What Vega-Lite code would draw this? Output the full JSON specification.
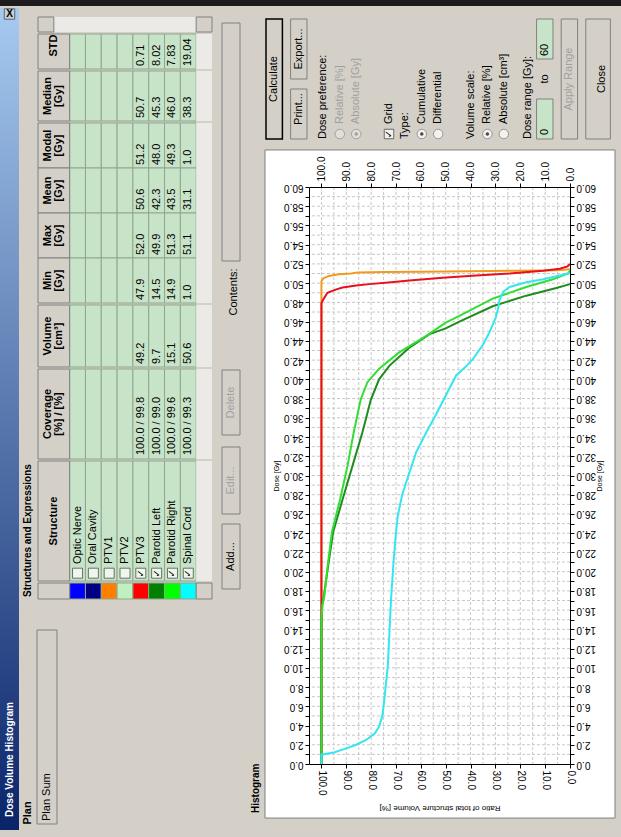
{
"$schema":"https://vega.github.io/schema/vega-lite/v6.json",
"background":"#d4d0c8",
"padding":0,
"spacing":0,
"config":{"view":{"stroke":null},"concat":{"spacing":0},"font":"Liberation Sans","text":{"font":"Liberation Sans","fontSize":11,"color":"#000000"}},
"datasets":{
"tbl":[
{"row":"r1","name":"Optic Nerve","chk":false,"cov":null,"vol":null,"mn":null,"mx":null,"mean":null,"modal":null,"median":null,"std":null},
{"row":"r2","name":"Oral Cavity","chk":false,"cov":null,"vol":null,"mn":null,"mx":null,"mean":null,"modal":null,"median":null,"std":null},
{"row":"r3","name":"PTV1","chk":false,"cov":null,"vol":null,"mn":null,"mx":null,"mean":null,"modal":null,"median":null,"std":null},
{"row":"r4","name":"PTV2","chk":false,"cov":null,"vol":null,"mn":null,"mx":null,"mean":null,"modal":null,"median":null,"std":null},
{"row":"r5","name":"PTV3","chk":true,"cov":"100.0 / 99.8","vol":49.2,"mn":47.9,"mx":52.0,"mean":50.6,"modal":51.2,"median":50.7,"std":0.71},
{"row":"r6","name":"Parotid Left","chk":true,"cov":"100.0 / 99.0","vol":9.7,"mn":14.5,"mx":49.9,"mean":42.3,"modal":48.0,"median":45.3,"std":8.02},
{"row":"r7","name":"Parotid Right","chk":true,"cov":"100.0 / 99.6","vol":15.1,"mn":14.9,"mx":51.3,"mean":43.5,"modal":49.3,"median":46.0,"std":7.83},
{"row":"r8","name":"Spinal Cord","chk":true,"cov":"100.0 / 99.3","vol":50.6,"mn":1.0,"mx":51.1,"mean":31.1,"modal":1.0,"median":38.3,"std":19.04}
],
"hdr4":[{"key":"modal","l1":"Modal","l2":"[Gy]"},{"key":"mean","l1":"Mean","l2":"[Gy]"},{"key":"mx","l1":"Max","l2":"[Gy]"},{"key":"mn","l1":"Min","l2":"[Gy]"}],
"dvh":[
{"s":"PTV1","v":100,"d":0},{"s":"PTV1","v":100,"d":50.2},{"s":"PTV1","v":99.2,"d":50.5},{"s":"PTV1","v":97,"d":50.75},{"s":"PTV1","v":93,"d":50.92},{"s":"PTV1","v":88,"d":51.0},{"s":"PTV1","v":85.5,"d":51.1},{"s":"PTV1","v":75,"d":51.16},{"s":"PTV1","v":60,"d":51.2},{"s":"PTV1","v":40,"d":51.25},{"s":"PTV1","v":20,"d":51.3},{"s":"PTV1","v":5,"d":51.35},{"s":"PTV1","v":0,"d":51.45},
{"s":"PTV3","v":100,"d":0},{"s":"PTV3","v":100,"d":47.9},{"s":"PTV3","v":99.5,"d":48.2},{"s":"PTV3","v":97.6,"d":49.0},{"s":"PTV3","v":94,"d":49.35},{"s":"PTV3","v":91.5,"d":49.55},{"s":"PTV3","v":86,"d":49.75},{"s":"PTV3","v":80.7,"d":49.9},{"s":"PTV3","v":72,"d":50.1},{"s":"PTV3","v":64.6,"d":50.28},{"s":"PTV3","v":51.2,"d":50.56},{"s":"PTV3","v":37.7,"d":50.8},{"s":"PTV3","v":24.3,"d":51.0},{"s":"PTV3","v":10.8,"d":51.3},{"s":"PTV3","v":4.1,"d":51.5},{"s":"PTV3","v":1,"d":51.75},{"s":"PTV3","v":0,"d":52.0},
{"s":"Parotid Left","v":100,"d":0},{"s":"Parotid Left","v":100,"d":14.5},{"s":"Parotid Left","v":99.7,"d":16.5},{"s":"Parotid Left","v":99,"d":17.5},{"s":"Parotid Left","v":97.3,"d":20.6},{"s":"Parotid Left","v":95.3,"d":24.1},{"s":"Parotid Left","v":91.5,"d":27.5},{"s":"Parotid Left","v":87.5,"d":31.0},{"s":"Parotid Left","v":83.5,"d":34.5},{"s":"Parotid Left","v":80.1,"d":37.9},{"s":"Parotid Left","v":76.8,"d":40.0},{"s":"Parotid Left","v":72.7,"d":41.4},{"s":"Parotid Left","v":68,"d":42.5},{"s":"Parotid Left","v":64.6,"d":43.3},{"s":"Parotid Left","v":56.5,"d":44.7},{"s":"Parotid Left","v":50,"d":45.3},{"s":"Parotid Left","v":44.5,"d":46.0},{"s":"Parotid Left","v":31.1,"d":47.6},{"s":"Parotid Left","v":17.6,"d":48.7},{"s":"Parotid Left","v":5.5,"d":49.5},{"s":"Parotid Left","v":0,"d":49.9},
{"s":"Parotid Right","v":100,"d":0},{"s":"Parotid Right","v":100,"d":14.9},{"s":"Parotid Right","v":99.6,"d":16.5},{"s":"Parotid Right","v":98.8,"d":17.5},{"s":"Parotid Right","v":97.5,"d":20.6},{"s":"Parotid Right","v":95.8,"d":24.1},{"s":"Parotid Right","v":92.5,"d":27.5},{"s":"Parotid Right","v":89.5,"d":31.0},{"s":"Parotid Right","v":87,"d":34.5},{"s":"Parotid Right","v":84.2,"d":37.9},{"s":"Parotid Right","v":81.5,"d":39.7},{"s":"Parotid Right","v":76.8,"d":41.1},{"s":"Parotid Right","v":68.7,"d":42.8},{"s":"Parotid Right","v":58,"d":44.5},{"s":"Parotid Right","v":50,"d":45.9},{"s":"Parotid Right","v":44.5,"d":46.6},{"s":"Parotid Right","v":31.1,"d":48.4},{"s":"Parotid Right","v":17.6,"d":49.6},{"s":"Parotid Right","v":6.9,"d":50.4},{"s":"Parotid Right","v":0.8,"d":51.0},{"s":"Parotid Right","v":0,"d":51.3},
{"s":"Spinal Cord","v":100,"d":0},{"s":"Spinal Cord","v":100,"d":0.97},{"s":"Spinal Cord","v":95,"d":1.2},{"s":"Spinal Cord","v":91.5,"d":1.5},{"s":"Spinal Cord","v":86,"d":2.0},{"s":"Spinal Cord","v":82,"d":2.5},{"s":"Spinal Cord","v":78.5,"d":3.2},{"s":"Spinal Cord","v":76.8,"d":3.9},{"s":"Spinal Cord","v":75.5,"d":5.0},{"s":"Spinal Cord","v":74.7,"d":6.7},{"s":"Spinal Cord","v":73.3,"d":10.2},{"s":"Spinal Cord","v":72,"d":17.1},{"s":"Spinal Cord","v":71,"d":21.0},{"s":"Spinal Cord","v":70.2,"d":23.5},{"s":"Spinal Cord","v":69.3,"d":25.8},{"s":"Spinal Cord","v":67.5,"d":28.0},{"s":"Spinal Cord","v":65.9,"d":29.3},{"s":"Spinal Cord","v":61.9,"d":32.4},{"s":"Spinal Cord","v":57.8,"d":34.5},{"s":"Spinal Cord","v":54,"d":36.3},{"s":"Spinal Cord","v":50,"d":38.3},{"s":"Spinal Cord","v":45.8,"d":40.4},{"s":"Spinal Cord","v":42,"d":41.3},{"s":"Spinal Cord","v":39.1,"d":42.1},{"s":"Spinal Cord","v":35,"d":43.6},{"s":"Spinal Cord","v":32.4,"d":44.9},{"s":"Spinal Cord","v":30,"d":46.3},{"s":"Spinal Cord","v":29,"d":47.3},{"s":"Spinal Cord","v":28.3,"d":48.3},{"s":"Spinal Cord","v":26.9,"d":49.1},{"s":"Spinal Cord","v":24.3,"d":49.6},{"s":"Spinal Cord","v":17.6,"d":50.1},{"s":"Spinal Cord","v":10.8,"d":50.4},{"s":"Spinal Cord","v":4.1,"d":50.8},{"s":"Spinal Cord","v":0.7,"d":51.0},{"s":"Spinal Cord","v":0,"d":51.1}
],
"vgrid":[{"v":5},{"v":10},{"v":15},{"v":20},{"v":25},{"v":30},{"v":35},{"v":40},{"v":45},{"v":50},{"v":55},{"v":60},{"v":65},{"v":70},{"v":75},{"v":80},{"v":85},{"v":90},{"v":95},{"v":100}],
"hgrid":[{"d":1},{"d":2},{"d":3},{"d":4},{"d":5},{"d":6},{"d":7},{"d":8},{"d":9},{"d":10},{"d":11},{"d":12},{"d":13},{"d":14},{"d":15},{"d":16},{"d":17},{"d":18},{"d":19},{"d":20},{"d":21},{"d":22},{"d":23},{"d":24},{"d":25},{"d":26},{"d":27},{"d":28},{"d":29},{"d":30},{"d":31},{"d":32},{"d":33},{"d":34},{"d":35},{"d":36},{"d":37},{"d":38},{"d":39},{"d":40},{"d":41},{"d":42},{"d":43},{"d":44},{"d":45},{"d":46},{"d":47},{"d":48},{"d":49},{"d":50},{"d":51},{"d":52},{"d":53},{"d":54},{"d":55},{"d":56},{"d":57},{"d":58},{"d":59}]
},
"vconcat":[
{"width":621,"height":6,"data":{"values":[{}]},"mark":{"type":"rect","fill":"#1c1c1c"},"encoding":{}},
{"spacing":0,"hconcat":[
{"width":19,"height":822,"data":{"values":[{}]},
 "layer":[
  {"mark":{"type":"rect","fill":{"gradient":"linear","x1":0,"y1":1,"x2":0,"y2":0,"stops":[{"offset":0,"color":"#0a246a"},{"offset":1,"color":"#a6caf0"}]}},"encoding":{}},
  {"mark":{"type":"text","text":"Dose Volume Histogram","angle":270,"align":"left","baseline":"middle","color":"#ffffff","fontWeight":"bold","fontSize":10,"dx":13},"encoding":{"y":{"datum":0,"type":"quantitative","scale":{"domain":[0,1]},"axis":null}}},
  {"mark":{"type":"point","shape":"square","size":110,"filled":true,"fill":"#d4d0c8","stroke":"#404040","strokeWidth":1},"encoding":{"y":{"datum":0.9927,"type":"quantitative","axis":null}}},
  {"mark":{"type":"text","text":"X","fontWeight":"bold","fontSize":10,"align":"center","baseline":"middle"},"encoding":{"y":{"datum":0.9927,"type":"quantitative","axis":null}}}
 ]},
{"spacing":0,"vconcat":[
 {"spacing":0,"hconcat":[
  {"width":18,"height":594,"data":{"values":[{}]},"mark":{"type":"text","text":"Structures and Expressions","angle":270,"fontWeight":"bold","fontSize":10,"align":"left","baseline":"middle","dx":5},"encoding":{"y":{"datum":0,"type":"quantitative","scale":{"domain":[0,1]},"axis":null}}},
  {"spacing":0,"vconcat":[
   {"width":174,"height":24,"data":{"values":[{}]},
    "layer":[
     {"mark":{"type":"rect","fill":"#eceae6"},"encoding":{"x":{"datum":"h1","bandPosition":0,"scale":{"domain":["h1","h2","r1","r2","r3","r4","r5","r6","r7","r8","sb"],"paddingInner":0,"paddingOuter":0},"axis":null},"x2":{"datum":"sb","bandPosition":1},"y":{"datum":0,"type":"quantitative","scale":{"domain":[0,1]},"axis":null},"y2":{"datum":0.625}}},
     {"mark":{"type":"rect","fill":"#d4d0c8","stroke":"#808080"},"encoding":{"x":{"datum":"h1","axis":null},"y":{"datum":0,"type":"quantitative","axis":null},"y2":{"datum":0.625}}},
     {"mark":{"type":"rect","fill":"#d4d0c8","stroke":"#808080"},"encoding":{"x":{"datum":"sb","axis":null},"y":{"datum":0,"type":"quantitative","axis":null},"y2":{"datum":0.625}}}
    ]},
   {"width":174,"height":35,
    "layer":[
     {"data":{"name":"tbl"},"mark":{"type":"rect","fill":"#c8e4c8","stroke":"#8fa68f","strokeWidth":1},"encoding":{"x":{"field":"row","type":"nominal","scale":{"domain":["h1","h2","r1","r2","r3","r4","r5","r6","r7","r8","sb"],"paddingInner":0,"paddingOuter":0},"axis":null}}},
     {"data":{"values":[{}]},"mark":{"type":"rect","fill":"#d4d0c8","stroke":"#808080","strokeWidth":1},"encoding":{"x":{"datum":"h1","bandPosition":0,"axis":null},"x2":{"datum":"h2","bandPosition":1}}},
     {"data":{"values":[{}]},"mark":{"type":"rect","fill":"#eceae6"},"encoding":{"x":{"datum":"sb","axis":null}}},
     {"data":{"values":[{}]},"mark":{"type":"text","text":"STD","angle":270,"fontWeight":"bold","align":"center","baseline":"middle","dx":6},"encoding":{"x":{"datum":"h2","bandPosition":0,"axis":null}}},
     {"data":{"name":"tbl"},"transform":[{"filter":"isValid(datum.std)"}],"mark":{"type":"text","angle":270,"align":"left","baseline":"middle","dx":3},"encoding":{"x":{"field":"row","type":"nominal","axis":null},"y":{"datum":0,"type":"quantitative","scale":{"domain":[0,1]},"axis":null},"text":{"field":"std","type":"quantitative","format":".2f"}}}
    ]},
   {"width":174,"height":50,
    "layer":[
     {"data":{"name":"tbl"},"mark":{"type":"rect","fill":"#c8e4c8","stroke":"#8fa68f","strokeWidth":1},"encoding":{"x":{"field":"row","type":"nominal","scale":{"domain":["h1","h2","r1","r2","r3","r4","r5","r6","r7","r8","sb"],"paddingInner":0,"paddingOuter":0},"axis":null}}},
     {"data":{"values":[{}]},"mark":{"type":"rect","fill":"#d4d0c8","stroke":"#808080","strokeWidth":1},"encoding":{"x":{"datum":"h1","bandPosition":0,"axis":null},"x2":{"datum":"h2","bandPosition":1}}},
     {"data":{"values":[{}]},"mark":{"type":"rect","fill":"#eceae6"},"encoding":{"x":{"datum":"sb","axis":null}}},
     {"data":{"values":[{}]},"mark":{"type":"text","text":"Median","angle":270,"fontWeight":"bold","align":"center","baseline":"middle","dy":2},"encoding":{"x":{"datum":"h1","bandPosition":0.5,"axis":null}}},
     {"data":{"values":[{}]},"mark":{"type":"text","text":"[Gy]","angle":270,"fontWeight":"bold","align":"center","baseline":"middle","dy":-2.5},"encoding":{"x":{"datum":"h2","bandPosition":0.5,"axis":null}}},
     {"data":{"name":"tbl"},"transform":[{"filter":"isValid(datum.median)"}],"mark":{"type":"text","angle":270,"align":"left","baseline":"middle","dx":3},"encoding":{"x":{"field":"row","type":"nominal","axis":null},"y":{"datum":0,"type":"quantitative","scale":{"domain":[0,1]},"axis":null},"text":{"field":"median","type":"quantitative","format":".1f"}}}
    ]},
   {"width":174,"height":180,
    "layer":[
     {"data":{"name":"tbl"},"transform":[{"fold":["modal","mean","mx","mn"],"as":["key","val"]}],"mark":{"type":"rect","fill":"#c8e4c8","stroke":"#8fa68f","strokeWidth":1},"encoding":{"x":{"field":"row","type":"nominal","scale":{"domain":["h1","h2","r1","r2","r3","r4","r5","r6","r7","r8","sb"],"paddingInner":0,"paddingOuter":0},"axis":null},"y":{"field":"key","type":"nominal","scale":{"domain":["modal","mean","mx","mn"],"paddingInner":0,"paddingOuter":0},"axis":null}}},
     {"data":{"name":"hdr4"},"mark":{"type":"rect","fill":"#d4d0c8","stroke":"#808080","strokeWidth":1},"encoding":{"x":{"datum":"h1","bandPosition":0,"axis":null},"x2":{"datum":"h2","bandPosition":1},"y":{"field":"key","type":"nominal","axis":null}}},
     {"data":{"values":[{}]},"mark":{"type":"rect","fill":"#eceae6"},"encoding":{"x":{"datum":"sb","axis":null}}},
     {"data":{"name":"hdr4"},"mark":{"type":"text","angle":270,"fontWeight":"bold","align":"center","baseline":"middle","dy":2},"encoding":{"x":{"datum":"h1","bandPosition":0.5,"axis":null},"y":{"field":"key","type":"nominal","axis":null},"text":{"field":"l1"}}},
     {"data":{"name":"hdr4"},"mark":{"type":"text","angle":270,"fontWeight":"bold","align":"center","baseline":"middle","dy":-2.5},"encoding":{"x":{"datum":"h2","bandPosition":0.5,"axis":null},"y":{"field":"key","type":"nominal","axis":null},"text":{"field":"l2"}}},
     {"data":{"name":"tbl"},"transform":[{"fold":["modal","mean","mx","mn"],"as":["key","val"]},{"filter":"isValid(datum.val)"}],"mark":{"type":"text","angle":270,"align":"left","baseline":"middle","dx":3},"encoding":{"x":{"field":"row","type":"nominal","axis":null},"y":{"field":"key","type":"nominal","bandPosition":1,"axis":null},"text":{"field":"val","type":"quantitative","format":".1f"}}}
    ]},
   {"width":174,"height":62,
    "layer":[
     {"data":{"name":"tbl"},"mark":{"type":"rect","fill":"#c8e4c8","stroke":"#8fa68f","strokeWidth":1},"encoding":{"x":{"field":"row","type":"nominal","scale":{"domain":["h1","h2","r1","r2","r3","r4","r5","r6","r7","r8","sb"],"paddingInner":0,"paddingOuter":0},"axis":null}}},
     {"data":{"values":[{}]},"mark":{"type":"rect","fill":"#d4d0c8","stroke":"#808080","strokeWidth":1},"encoding":{"x":{"datum":"h1","bandPosition":0,"axis":null},"x2":{"datum":"h2","bandPosition":1}}},
     {"data":{"values":[{}]},"mark":{"type":"rect","fill":"#eceae6"},"encoding":{"x":{"datum":"sb","axis":null}}},
     {"data":{"values":[{}]},"mark":{"type":"text","text":"Volume","angle":270,"fontWeight":"bold","align":"center","baseline":"middle","dy":2},"encoding":{"x":{"datum":"h1","bandPosition":0.5,"axis":null}}},
     {"data":{"values":[{}]},"mark":{"type":"text","text":"[cm³]","angle":270,"fontWeight":"bold","align":"center","baseline":"middle","dy":-2.5},"encoding":{"x":{"datum":"h2","bandPosition":0.5,"axis":null}}},
     {"data":{"name":"tbl"},"transform":[{"filter":"isValid(datum.vol)"}],"mark":{"type":"text","angle":270,"align":"left","baseline":"middle","dx":3},"encoding":{"x":{"field":"row","type":"nominal","axis":null},"y":{"datum":0,"type":"quantitative","scale":{"domain":[0,1]},"axis":null},"text":{"field":"vol","type":"quantitative","format":".1f"}}}
    ]},
   {"width":174,"height":90,
    "layer":[
     {"data":{"name":"tbl"},"mark":{"type":"rect","fill":"#c8e4c8","stroke":"#8fa68f","strokeWidth":1},"encoding":{"x":{"field":"row","type":"nominal","scale":{"domain":["h1","h2","r1","r2","r3","r4","r5","r6","r7","r8","sb"],"paddingInner":0,"paddingOuter":0},"axis":null}}},
     {"data":{"values":[{}]},"mark":{"type":"rect","fill":"#d4d0c8","stroke":"#808080","strokeWidth":1},"encoding":{"x":{"datum":"h1","bandPosition":0,"axis":null},"x2":{"datum":"h2","bandPosition":1}}},
     {"data":{"values":[{}]},"mark":{"type":"rect","fill":"#eceae6"},"encoding":{"x":{"datum":"sb","axis":null}}},
     {"data":{"values":[{}]},"mark":{"type":"text","text":"Coverage","angle":270,"fontWeight":"bold","align":"center","baseline":"middle","dy":2},"encoding":{"x":{"datum":"h1","bandPosition":0.5,"axis":null}}},
     {"data":{"values":[{}]},"mark":{"type":"text","text":"[%] / [%]","angle":270,"fontWeight":"bold","align":"center","baseline":"middle","dy":-2.5},"encoding":{"x":{"datum":"h2","bandPosition":0.5,"axis":null}}},
     {"data":{"name":"tbl"},"transform":[{"filter":"isValid(datum.cov)"}],"mark":{"type":"text","angle":270,"align":"left","baseline":"middle","dx":4},"encoding":{"x":{"field":"row","type":"nominal","axis":null},"y":{"datum":0,"type":"quantitative","scale":{"domain":[0,1]},"axis":null},"text":{"field":"cov"}}}
    ]},
   {"width":174,"height":120,
    "layer":[
     {"data":{"name":"tbl"},"mark":{"type":"rect","fill":"#c8e4c8","stroke":"#8fa68f","strokeWidth":1},"encoding":{"x":{"field":"row","type":"nominal","scale":{"domain":["h1","h2","r1","r2","r3","r4","r5","r6","r7","r8","sb"],"paddingInner":0,"paddingOuter":0},"axis":null}}},
     {"data":{"values":[{}]},"mark":{"type":"rect","fill":"#d4d0c8","stroke":"#808080","strokeWidth":1},"encoding":{"x":{"datum":"h1","bandPosition":0,"axis":null},"x2":{"datum":"h2","bandPosition":1}}},
     {"data":{"values":[{}]},"mark":{"type":"rect","fill":"#eceae6"},"encoding":{"x":{"datum":"sb","axis":null}}},
     {"data":{"values":[{}]},"mark":{"type":"text","text":"Structure","angle":270,"fontWeight":"bold","align":"center","baseline":"middle"},"encoding":{"x":{"datum":"h2","bandPosition":0,"axis":null}}},
     {"data":{"name":"tbl"},"mark":{"type":"point","shape":"square","size":100,"filled":true,"fill":"#ffffff","stroke":"#404040","strokeWidth":1},"encoding":{"x":{"field":"row","type":"nominal","axis":null},"y":{"datum":0.065,"type":"quantitative","scale":{"domain":[0,1]},"axis":null}}},
     {"data":{"name":"tbl"},"transform":[{"filter":"datum.chk"}],"mark":{"type":"text","text":"✓","font":"DejaVu Sans","angle":270,"fontWeight":"bold","fontSize":10,"align":"center","baseline":"middle"},"encoding":{"x":{"field":"row","type":"nominal","axis":null},"y":{"datum":0.065,"type":"quantitative","axis":null}}},
     {"data":{"name":"tbl"},"mark":{"type":"text","angle":270,"align":"left","baseline":"middle","dx":17},"encoding":{"x":{"field":"row","type":"nominal","axis":null},"y":{"datum":0,"type":"quantitative","axis":null},"text":{"field":"name"}}}
    ]},
   {"width":174,"height":16,
    "layer":[
     {"data":{"name":"tbl"},"mark":{"type":"rect","stroke":"#8fa68f","strokeWidth":1},"encoding":{"x":{"field":"row","type":"nominal","scale":{"domain":["h1","h2","r1","r2","r3","r4","r5","r6","r7","r8","sb"],"paddingInner":0,"paddingOuter":0},"axis":null},"fill":{"field":"name","type":"nominal","scale":{"domain":["Optic Nerve","Oral Cavity","PTV1","PTV2","PTV3","Parotid Left","Parotid Right","Spinal Cord"],"range":["#0000ff","#000080","#ff8000","#c0f0c0","#ff0000","#008000","#00ff00","#00ffff"]},"legend":null}}},
     {"data":{"values":[{}]},"mark":{"type":"rect","fill":"#d4d0c8","stroke":"#808080","strokeWidth":1},"encoding":{"x":{"datum":"h1","bandPosition":0,"axis":null},"x2":{"datum":"h2","bandPosition":1}}},
     {"data":{"values":[{}]},"mark":{"type":"rect","fill":"#d4d0c8","stroke":"#808080"},"encoding":{"x":{"datum":"sb","axis":null}}}
    ]},
   {"width":174,"height":17,"data":{"values":[]},"mark":"rect"}
  ]},
  {"spacing":0,"hconcat":[
   {"width":8,"height":594,"data":{"values":[]},"mark":"rect"},
   {"spacing":0,"vconcat":[
    {"width":18,"height":14,"data":{"values":[]},"mark":"rect"},
    {"width":18,"height":238,"data":{"values":[{}]},"mark":{"type":"rect","fill":"#d4d0c8","stroke":"#808080"},"encoding":{}},
    {"width":18,"height":4,"data":{"values":[]},"mark":"rect"},
    {"width":18,"height":52,"data":{"values":[{}]},"mark":{"type":"text","text":"Contents:","angle":270,"align":"center","baseline":"middle","dy":3},"encoding":{}},
    {"width":18,"height":51,"data":{"values":[]},"mark":"rect"},
    {"width":18,"height":65,"data":{"values":[{}]},"layer":[{"mark":{"type":"rect","fill":"#d4d0c8","stroke":"#808080"},"encoding":{}},{"mark":{"type":"text","text":"Delete","angle":270,"align":"center","baseline":"middle","color":"#a0a0a0"},"encoding":{}}]},
    {"width":18,"height":10,"data":{"values":[]},"mark":"rect"},
    {"width":18,"height":67,"data":{"values":[{}]},"layer":[{"mark":{"type":"rect","fill":"#d4d0c8","stroke":"#808080"},"encoding":{}},{"mark":{"type":"text","text":"Edit...","angle":270,"align":"center","baseline":"middle","color":"#a0a0a0"},"encoding":{}}]},
    {"width":18,"height":8,"data":{"values":[]},"mark":"rect"},
    {"width":18,"height":65,"data":{"values":[{}]},"layer":[{"mark":{"type":"rect","fill":"#d4d0c8","stroke":"#808080"},"encoding":{}},{"mark":{"type":"text","text":"Add...","angle":270,"align":"center","baseline":"middle"},"encoding":{}}]},
    {"width":18,"height":20,"data":{"values":[]},"mark":"rect"}
   ]},
   {"width":3,"height":594,"data":{"values":[]},"mark":"rect"}
  ]}
 ]},
 {"spacing":0,"hconcat":[
  {"spacing":0,"vconcat":[
   {"width":17,"height":182,"data":{"values":[]},"mark":"rect"},
   {"width":17,"height":28,"data":{"values":[{}]},"mark":{"type":"text","text":"Plan","angle":270,"fontWeight":"bold","align":"center","baseline":"middle"},"encoding":{}},
   {"width":17,"height":18,"data":{"values":[]},"mark":"rect"}
  ]},
  {"spacing":0,"vconcat":[
   {"width":20,"height":12,"data":{"values":[]},"mark":"rect"},
   {"width":20,"height":194,"data":{"values":[{}]},"layer":[
     {"mark":{"type":"rect","fill":"#d4d0c8","stroke":"#808080"},"encoding":{}},
     {"mark":{"type":"text","text":"Plan Sum","angle":270,"align":"left","baseline":"middle","dx":3},"encoding":{"y":{"datum":0,"type":"quantitative","scale":{"domain":[0,1]},"axis":null}}}
   ]},
   {"width":20,"height":22,"data":{"values":[]},"mark":"rect"}
  ]},
  {"width":189,"height":228,"data":{"values":[]},"mark":"rect"}
 ]}
]},
{"spacing":0,"vconcat":[
 {"spacing":0,"hconcat":[
  {"width":18,"height":141,"data":{"values":[]},"mark":"rect"},
  {"width":358,"height":141,"data":{"values":[{}]},
   "layer":[
    {"mark":{"type":"rect","fill":"#d4d0c8","stroke":"#000000","strokeWidth":1.5},"encoding":{"x":{"datum":"h0","bandPosition":0,"scale":{"domain":["h0","h1","h2","h3","h4","h5","h6","h7","h8","h9","h10","h11","h12","h13","h14","h15","h16","h17","h18","h19","h20","h21","h22","h23","h24","h25","h26","h27","h28","h29","h30","h31","h32","h33","h34","h35","h36","h37","h38","h39","h40","h41","h42"],"paddingInner":0,"paddingOuter":0.33,"align":0},"axis":null},"x2":{"datum":"h1","bandPosition":1},"y":{"datum":"r0","bandPosition":0,"scale":{"domain":["r0","r1","r2","r3","r4","r5","r6","r7","r8","r9","r10","r11","r12"],"paddingInner":0,"paddingOuter":0.55,"align":1},"axis":null},"y2":{"datum":"r11","bandPosition":1}}},
    {"mark":{"type":"rect","fill":"#d4d0c8","stroke":"#808080"},"encoding":{"x":{"datum":"h3","bandPosition":0,"axis":null},"x2":{"datum":"h4","bandPosition":1},"y":{"datum":"r0","bandPosition":0,"axis":null},"y2":{"datum":"r5","bandPosition":1}}},
    {"mark":{"type":"rect","fill":"#d4d0c8","stroke":"#808080"},"encoding":{"x":{"datum":"h3","bandPosition":0,"axis":null},"x2":{"datum":"h4","bandPosition":1},"y":{"datum":"r7","bandPosition":0,"axis":null},"y2":{"datum":"r11","bandPosition":1}}},
    {"mark":{"type":"rect","fill":"#d4d0c8","stroke":"#808080"},"encoding":{"x":{"datum":"h36","bandPosition":0,"axis":null},"x2":{"datum":"h37","bandPosition":1},"y":{"datum":"r0","bandPosition":0,"axis":null},"y2":{"datum":"r11","bandPosition":1}}},
    {"mark":{"type":"rect","fill":"#d4d0c8","stroke":"#808080"},"encoding":{"x":{"datum":"h39","bandPosition":0,"axis":null},"x2":{"datum":"h41","bandPosition":1},"y":{"datum":"r0","bandPosition":0,"axis":null},"y2":{"datum":"r11","bandPosition":1}}},
    {"mark":{"type":"rect","fill":"#c8e4c8","stroke":"#808080"},"encoding":{"x":{"datum":"h33","bandPosition":0,"axis":null},"x2":{"datum":"h34","bandPosition":1},"y":{"datum":"r8","bandPosition":0,"axis":null},"y2":{"datum":"r11","bandPosition":1}}},
    {"mark":{"type":"rect","fill":"#c8e4c8","stroke":"#808080"},"encoding":{"x":{"datum":"h33","bandPosition":0,"axis":null},"x2":{"datum":"h34","bandPosition":1},"y":{"datum":"r0","bandPosition":0,"axis":null},"y2":{"datum":"r3","bandPosition":1}}},
    {"mark":{"type":"text","text":"Calculate","angle":270,"align":"center","baseline":"middle"},"encoding":{"x":{"datum":"h1","bandPosition":0,"axis":null},"y":{"datum":"r6","bandPosition":0,"axis":null}}},
    {"mark":{"type":"text","text":"Export...","angle":270,"align":"center","baseline":"middle"},"encoding":{"x":{"datum":"h4","bandPosition":0,"axis":null},"y":{"datum":"r3","bandPosition":0,"axis":null}}},
    {"mark":{"type":"text","text":"Print...","angle":270,"align":"center","baseline":"middle"},"encoding":{"x":{"datum":"h4","bandPosition":0,"axis":null},"y":{"datum":"r9","bandPosition":0,"axis":null}}},
    {"mark":{"type":"text","text":"Apply Range","angle":270,"align":"center","baseline":"middle","color":"#a0a0a0"},"encoding":{"x":{"datum":"h37","bandPosition":0,"axis":null},"y":{"datum":"r6","bandPosition":0,"axis":null}}},
    {"mark":{"type":"text","text":"Close","angle":270,"align":"center","baseline":"middle"},"encoding":{"x":{"datum":"h41","bandPosition":0,"axis":null},"y":{"datum":"r6","bandPosition":0,"axis":null}}},
    {"mark":{"type":"text","text":"to","angle":270,"align":"center","baseline":"middle"},"encoding":{"x":{"datum":"h34","bandPosition":0,"axis":null},"y":{"datum":"r6","bandPosition":0,"axis":null}}},
    {"mark":{"type":"text","text":"Dose preference:","angle":270,"align":"left","baseline":"middle"},"encoding":{"x":{"datum":"h7","bandPosition":0,"axis":null},"y":{"datum":"r12","bandPosition":0,"axis":null}}},
    {"mark":{"type":"text","text":"Type:","angle":270,"align":"left","baseline":"middle"},"encoding":{"x":{"datum":"h17","bandPosition":0,"axis":null},"y":{"datum":"r12","bandPosition":0,"axis":null}}},
    {"mark":{"type":"text","text":"Volume scale:","angle":270,"align":"left","baseline":"middle"},"encoding":{"x":{"datum":"h25","bandPosition":0,"axis":null},"y":{"datum":"r12","bandPosition":0,"axis":null}}},
    {"mark":{"type":"text","text":"Dose range [Gy]:","angle":270,"align":"left","baseline":"middle"},"encoding":{"x":{"datum":"h32","bandPosition":0,"axis":null},"y":{"datum":"r12","bandPosition":0,"axis":null}}},
    {"mark":{"type":"text","text":"0","angle":270,"align":"left","baseline":"middle","dx":4},"encoding":{"x":{"datum":"h34","bandPosition":0,"axis":null},"y":{"datum":"r12","bandPosition":0,"axis":null}}},
    {"mark":{"type":"text","text":"60","angle":270,"align":"left","baseline":"middle","dx":3},"encoding":{"x":{"datum":"h34","bandPosition":0,"axis":null},"y":{"datum":"r4","bandPosition":0,"axis":null}}},
    {"encoding":{"x":{"datum":"h9","bandPosition":0,"axis":null}},"layer":[
      {"mark":{"type":"point","shape":"circle","size":90,"filled":true,"fill":"#e8e6e2","stroke":"#909090","strokeWidth":1},"encoding":{"y":{"datum":"r11","bandPosition":0.5,"axis":null}}},
      {"mark":{"type":"text","text":"Relative [%]","angle":270,"align":"left","baseline":"middle","dx":5,"color":"#a0a0a0"},"encoding":{"y":{"datum":"r11","bandPosition":0,"axis":null}}}]},
    {"encoding":{"x":{"datum":"h11","bandPosition":0,"axis":null}},"layer":[
      {"mark":{"type":"point","shape":"circle","size":90,"filled":true,"fill":"#e8e6e2","stroke":"#909090","strokeWidth":1},"encoding":{"y":{"datum":"r11","bandPosition":0.5,"axis":null}}},
      {"mark":{"type":"point","shape":"circle","size":12,"filled":true,"color":"#808080"},"encoding":{"y":{"datum":"r11","bandPosition":0.5,"axis":null}}},
      {"mark":{"type":"text","text":"Absolute [Gy]","angle":270,"align":"left","baseline":"middle","dx":5,"color":"#a0a0a0"},"encoding":{"y":{"datum":"r11","bandPosition":0,"axis":null}}}]},
    {"encoding":{"x":{"datum":"h15","bandPosition":0,"axis":null}},"layer":[
      {"mark":{"type":"point","shape":"square","size":90,"filled":true,"fill":"#ffffff","stroke":"#404040","strokeWidth":1},"encoding":{"y":{"datum":"r11","bandPosition":0.5,"axis":null}}},
      {"mark":{"type":"text","text":"✓","font":"DejaVu Sans","fontWeight":"bold","fontSize":10,"angle":270,"align":"center","baseline":"middle"},"encoding":{"y":{"datum":"r11","bandPosition":0.5,"axis":null}}},
      {"mark":{"type":"text","text":"Grid","angle":270,"align":"left","baseline":"middle","dx":5},"encoding":{"y":{"datum":"r11","bandPosition":0,"axis":null}}}]},
    {"encoding":{"x":{"datum":"h19","bandPosition":0,"axis":null}},"layer":[
      {"mark":{"type":"point","shape":"circle","size":90,"filled":true,"fill":"#ffffff","stroke":"#808080","strokeWidth":1},"encoding":{"y":{"datum":"r11","bandPosition":0.5,"axis":null}}},
      {"mark":{"type":"point","shape":"circle","size":12,"filled":true,"color":"#000000"},"encoding":{"y":{"datum":"r11","bandPosition":0.5,"axis":null}}},
      {"mark":{"type":"text","text":"Cumulative","angle":270,"align":"left","baseline":"middle","dx":5},"encoding":{"y":{"datum":"r11","bandPosition":0,"axis":null}}}]},
    {"encoding":{"x":{"datum":"h21","bandPosition":0,"axis":null}},"layer":[
      {"mark":{"type":"point","shape":"circle","size":90,"filled":true,"fill":"#ffffff","stroke":"#808080","strokeWidth":1},"encoding":{"y":{"datum":"r11","bandPosition":0.5,"axis":null}}},
      {"mark":{"type":"text","text":"Differential","angle":270,"align":"left","baseline":"middle","dx":5},"encoding":{"y":{"datum":"r11","bandPosition":0,"axis":null}}}]},
    {"encoding":{"x":{"datum":"h27","bandPosition":0,"axis":null}},"layer":[
      {"mark":{"type":"point","shape":"circle","size":90,"filled":true,"fill":"#ffffff","stroke":"#808080","strokeWidth":1},"encoding":{"y":{"datum":"r11","bandPosition":0.5,"axis":null}}},
      {"mark":{"type":"point","shape":"circle","size":12,"filled":true,"color":"#000000"},"encoding":{"y":{"datum":"r11","bandPosition":0.5,"axis":null}}},
      {"mark":{"type":"text","text":"Relative [%]","angle":270,"align":"left","baseline":"middle","dx":5},"encoding":{"y":{"datum":"r11","bandPosition":0,"axis":null}}}]},
    {"encoding":{"x":{"datum":"h29","bandPosition":0,"axis":null}},"layer":[
      {"mark":{"type":"point","shape":"circle","size":90,"filled":true,"fill":"#ffffff","stroke":"#808080","strokeWidth":1},"encoding":{"y":{"datum":"r11","bandPosition":0.5,"axis":null}}},
      {"mark":{"type":"text","text":"Absolute [cm³]","angle":270,"align":"left","baseline":"middle","dx":5},"encoding":{"y":{"datum":"r11","bandPosition":0,"axis":null}}}]}
   ]}
 ]},
 {"spacing":0,"hconcat":[
  {"width":17,"height":626,"data":{"values":[{}]},"mark":{"type":"text","text":"Histogram","angle":270,"align":"left","baseline":"middle","fontWeight":"bold","fontSize":10},"encoding":{"y":{"datum":0,"type":"quantitative","scale":{"domain":[0,1]},"axis":null}}},
  {"width":261,"height":577,
   "layer":[
    {"data":{"values":[{}]},"mark":{"type":"rect","fill":"#ffffff","stroke":"#808080","strokeWidth":1},"encoding":{"x":{"datum":122.7,"type":"quantitative","scale":{"domain":[0,105],"reverse":true,"nice":false,"zero":false},"axis":null},"x2":{"datum":-18.1},"y":{"datum":-5.62,"type":"quantitative","scale":{"domain":[0,60],"nice":false,"zero":false},"axis":null},"y2":{"datum":63.85}}},
    {"data":{"name":"vgrid"},"mark":{"type":"rule","stroke":"#c8c8c8","strokeDash":[3,2],"strokeWidth":1},"encoding":{"x":{"field":"v","type":"quantitative","axis":null}}},
    {"data":{"name":"hgrid"},"mark":{"type":"rule","stroke":"#c8c8c8","strokeDash":[3,2],"strokeWidth":1},"encoding":{"y":{"field":"d","type":"quantitative","axis":null}}},
    {"data":{"name":"dvh"},"mark":{"type":"line","strokeWidth":2},
     "encoding":{
      "x":{"field":"v","type":"quantitative","axis":{"orient":"bottom","zindex":1,"values":[0,10,20,30,40,50,60,70,80,90,100],"format":".1f","labelAngle":90,"labelFontSize":10,"labelFont":"Liberation Sans","labelColor":"#000000","tickColor":"#000000","domainColor":"#000000","tickSize":4,"labelPadding":2,"grid":false,"labelOverlap":false,"labelFlush":false,"title":"Ratio of total structure Volume [%]","titleAngle":180,"titleBaseline":"bottom","titleFontSize":8,"titleFontWeight":"normal","titleFont":"Liberation Sans","titleColor":"#000000","titlePadding":8}},
      "y":{"field":"d","type":"quantitative","axis":{"orient":"left","zindex":1,"values":[0,1,2,3,4,5,6,7,8,9,10,11,12,13,14,15,16,17,18,19,20,21,22,23,24,25,26,27,28,29,30,31,32,33,34,35,36,37,38,39,40,41,42,43,44,45,46,47,48,49,50,51,52,53,54,55,56,57,58,59,60],"labelExpr":"datum.value % 2 === 0 ? format(datum.value, '.1f') : ''","labelAngle":180,"labelFontSize":10,"labelFont":"Liberation Sans","labelColor":"#000000","tickColor":"#000000","domainColor":"#000000","tickSize":4,"labelPadding":2,"grid":false,"labelOverlap":false,"labelFlush":false,"title":"Dose [Gy]","titleAngle":270,"titleFontSize":7,"titleFontWeight":"normal","titleFont":"Liberation Sans","titleColor":"#000000","titlePadding":4}},
      "color":{"field":"s","type":"nominal","scale":{"domain":["PTV1","PTV3","Parotid Left","Parotid Right","Spinal Cord"],"range":["#f39a1e","#e8101a","#1e8c1e","#33dd33","#33e6f0"]},"legend":null},
      "order":{"field":"d","type":"quantitative"}}},
    {"data":{"name":"dvh"},"mark":{"type":"point","opacity":0},
     "encoding":{
      "x":{"field":"v","type":"quantitative","axis":{"orient":"top","zindex":1,"values":[0,10,20,30,40,50,60,70,80,90,100],"format":".1f","labelAngle":270,"labelFontSize":10,"labelFont":"Liberation Sans","labelColor":"#000000","tickColor":"#000000","domainColor":"#000000","tickSize":4,"labelPadding":2,"grid":false,"labelOverlap":false,"labelFlush":false,"title":null}},
      "y":{"field":"d","type":"quantitative","axis":{"orient":"right","zindex":1,"values":[0,1,2,3,4,5,6,7,8,9,10,11,12,13,14,15,16,17,18,19,20,21,22,23,24,25,26,27,28,29,30,31,32,33,34,35,36,37,38,39,40,41,42,43,44,45,46,47,48,49,50,51,52,53,54,55,56,57,58,59,60],"labelExpr":"datum.value % 2 === 0 ? format(datum.value, '.1f') : ''","labelAngle":180,"labelFontSize":10,"labelFont":"Liberation Sans","labelColor":"#000000","tickColor":"#000000","domainColor":"#000000","tickSize":4,"labelPadding":2,"grid":false,"labelOverlap":false,"labelFlush":false,"title":"Dose [Gy]","titleAngle":270,"titleBaseline":"middle","titleFontSize":7,"titleFontWeight":"normal","titleFont":"Liberation Sans","titleColor":"#000000","titlePadding":4}}}}
   ],
   "resolve":{"axis":{"x":"independent","y":"independent"}}}
 ]}
]}
]},
{"width":621,"height":9,"data":{"values":[{}]},"mark":{"type":"rect","fill":"#1c1c1c"},"encoding":{}}
]
}
